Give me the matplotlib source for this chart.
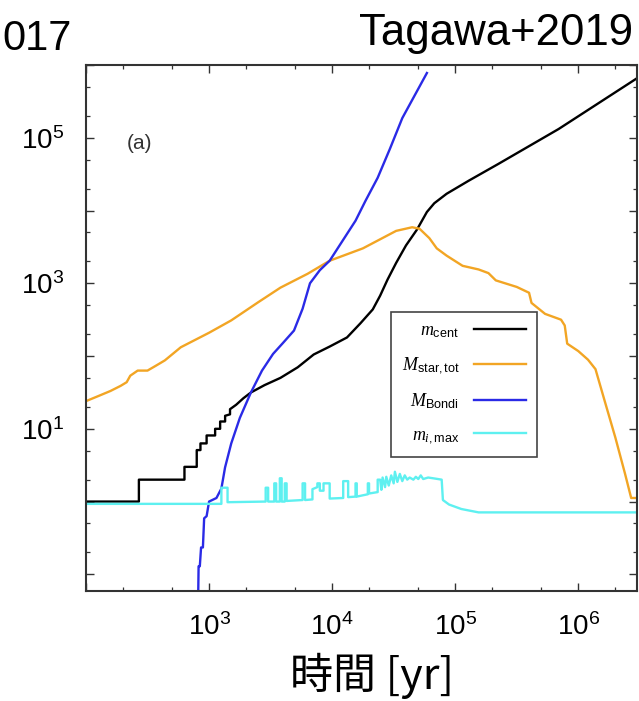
import numpy as np
import matplotlib
matplotlib.use("Agg")
import matplotlib.pyplot as plt
from matplotlib.ticker import FixedLocator, NullFormatter

# time [yr] and masses
t_cent = [100, 269, 269, 631, 631, 794, 794, 851, 851, 955, 955, 1120, 1120, 1230, 1230,
          1350, 1350, 1480, 1480, 1660, 1900, 2190, 2820, 3800, 5250, 7080, 9550, 13200,
          16980, 21380, 24550, 28180, 33110, 39810, 48980, 58880, 67600, 85110, 128800,
          223900, 691800, 2.95e6, 3.0e6]
m_cent = [1.0, 1.0, 2.0, 2.0, 3.0, 3.0, 5.1, 5.1, 6.3, 6.3, 8.1, 8.1, 10, 10, 12.6,
          12.6, 15.1, 15.8, 18.6, 21.4, 26.3, 31.6, 39.8, 50.1, 70, 105, 135, 180,
          282, 437, 676, 1122, 1905, 3311, 5495, 9550, 12590, 16980, 25700,
          43650, 131800, 645700, 660000]

t_star = [100, 126, 158, 191, 214, 229, 263, 316, 372, 437, 589, 1000, 1514, 2512, 3802,
          6310, 9550, 17780, 33110, 44670, 51290, 61660, 70790, 85110, 114800, 154900,
          186200, 213800, 316200, 398100, 416900, 537000, 724400, 776200, 812800, 1.0e6,
          1.2e6, 1.38e6, 1.66e6, 2.0e6, 2.4e6, 2.69e6, 3.0e6]
m_star = [24.0, 28.2, 33.1, 38.9, 43.7, 53.7, 63.1, 63.1, 74.1, 87.1, 132, 209, 309, 550, 871,
          1349, 2042, 3020, 5250, 5890, 5620, 4170, 3020, 2399, 1738, 1549,
          1380, 1096, 891, 741, 537, 380, 316, 263, 148, 117,
          89, 66, 22.4, 7.6, 2.4, 1.12, 1.12]

t_bondi = [813, 822, 841, 861, 891, 912, 955, 1000, 1148, 1259, 1349, 1514, 1778, 2188,
           2692, 3311, 3981, 4898, 5754, 6607, 7943, 9550, 15490, 18620, 23440, 29510,
           37150, 58880]
m_bondi = [0.032, 0.129, 0.129, 0.234, 0.234, 0.589, 0.63, 1.0, 1.12, 1.51, 2.95, 6.3, 14.1,
           31.6, 63.1, 107, 151, 224, 447, 1000, 1514, 2042, 7244, 13490, 28180, 70800,
           186200, 776200]

t_imax = [100, 1259, 1259, 1413, 1413,
          2884, 2884, 3020, 3020,
          3388, 3388, 3508, 3508,
          3758, 3758, 3890, 3890,
          4121, 4121, 4266, 4266,
          5754, 5754, 6026, 6026,
          6918, 6918, 7586, 7586, 7943, 7943, 8511, 8511, 9550, 9550,
          12300, 12300, 13490, 13490,
          15490, 15490, 15850, 15850,
          19500, 19500, 19950, 19950,
          23440, 23440, 24550, 25120, 25700, 26920, 27540, 28840, 30200, 31620, 32360,
          33880, 35480, 37150, 38900, 40740, 42660, 45710, 47860, 50120, 52480, 54950,
          60260, 66070, 72440, 77620, 79430, 89130, 112200, 154900, 3.0e6]
m_imax = [0.93, 0.93, 1.55, 1.55, 0.98,
          1.0, 1.55, 1.55, 1.0,
          1.0, 1.78, 1.78, 1.0,
          1.0, 2.09, 2.09, 1.0,
          1.0, 1.78, 1.78, 1.02,
          1.05, 1.78, 1.78, 1.05,
          1.07, 1.48, 1.58, 1.78, 1.78, 1.41, 1.41, 1.78, 1.78, 1.10,
          1.12, 1.91, 1.91, 1.15,
          1.17, 1.78, 1.78, 1.17,
          1.26, 1.78, 1.78, 1.29,
          1.35, 2.0, 2.0, 1.45, 2.14, 1.58, 2.19, 1.66, 2.29, 1.78, 2.57,
          1.86, 2.40, 1.91, 2.29, 2.0, 2.14, 2.0, 2.19, 2.04, 2.29, 2.04,
          2.14, 2.09, 2.04, 2.0, 1.05, 0.91, 0.79, 0.71, 0.71]

labels = [r"$m_{\rm cent}$", r"$M_{\rm star,tot}$", r"$M_{\rm Bondi}$", r"$m_{i,\rm max}$"]
colors = ["black", "#f2a524", "#2a2ae6", "#5ef0f0"]

x_major = [1e2, 1e3, 1e4, 1e5, 1e6]
x_labels = ["", "10^{3}", "10^{4}", "10^{5}", "10^{6}"]
y_major = [1e-1, 1e0, 1e1, 1e2, 1e3, 1e4, 1e5, 1e6]
y_labels = ["", "", "10^{1}", "", "10^{3}", "", "10^{5}", ""]

plt.rcParams['font.family'] = ['Liberation Sans', 'DejaVu Sans']
plt.rcParams['mathtext.fontset'] = 'custom'
plt.rcParams['mathtext.rm'] = 'Liberation Sans'
plt.rcParams['mathtext.it'] = 'Liberation Serif:italic'
plt.rcParams['mathtext.bf'] = 'Liberation Sans:bold'

fig = plt.figure(figsize=(6.39, 7.01), dpi=100)
ax = fig.add_axes([86/639, 110/701, 551/639, 526/701])

series = [(t_cent, m_cent), (t_star, m_star), (t_bondi, m_bondi), (t_imax, m_imax)]
for (t, m), c, lab in zip(series, colors, labels):
    ax.plot(t, m, color=c, lw=1.7, label=lab)

ax.set_xscale('log')
ax.set_yscale('log')
ax.set_xlim(1e2, 3e6)
ax.set_ylim(0.059, 1e6)

minor_x = [k * 10**e for e in range(2, 7) for k in (2, 5)]
minor_y = [k * 10**e for e in range(-2, 6) for k in (2, 5)]
ax.xaxis.set_major_locator(FixedLocator(x_major))
ax.yaxis.set_major_locator(FixedLocator(y_major))
ax.xaxis.set_minor_locator(FixedLocator(minor_x))
ax.yaxis.set_minor_locator(FixedLocator(minor_y))
ax.xaxis.set_minor_formatter(NullFormatter())
ax.yaxis.set_minor_formatter(NullFormatter())
ax.set_xticklabels([r"$\mathregular{" + s + "}$" if s else "" for s in x_labels])
ax.set_yticklabels([r"$\mathregular{" + s + "}$" if s else "" for s in y_labels])

ax.tick_params(which='both', direction='in', top=True, right=True, color='#333333')
ax.tick_params(which='major', length=6, width=1.0, labelsize=20, pad=16)
ax.tick_params(which='minor', length=3, width=0.9)
ax.tick_params(axis='y', which='major', pad=16)
for s in ax.spines.values():
    s.set_color('#333333')
    s.set_linewidth(1.5)

ax.text(0.098, 0.850, "(a)", transform=ax.transAxes, fontsize=15, color='#333333',
        ha='center', va='center', family=['Liberation Sans Narrow', 'Liberation Sans'])

leg = ax.legend(loc='upper left', bbox_to_anchor=(0.553, 0.531), markerfirst=False,
                fontsize=13, handlelength=2.9, labelspacing=0.85, borderpad=0.6,
                handletextpad=0.8, borderaxespad=0, fancybox=False,
                edgecolor='#444444', framealpha=1)
leg.get_frame().set_linewidth(1.2)
for t in leg.get_texts():
    t.set_ha('right')

fig.text(2/639, 1 - 50/701, "017", fontsize=30, ha='left', va='baseline')
fig.text(633/639, 1 - 45/701, "Tagawa+2019", fontsize=31.5, ha='right', va='baseline')
fig.text(372/639, 1 - 689/701, "時間 [yr]", fontsize=31, ha='center', va='baseline',
         family=['Noto Sans CJK JP', 'DejaVu Sans'])

fig.savefig("out.png", dpi=100, facecolor='white')
